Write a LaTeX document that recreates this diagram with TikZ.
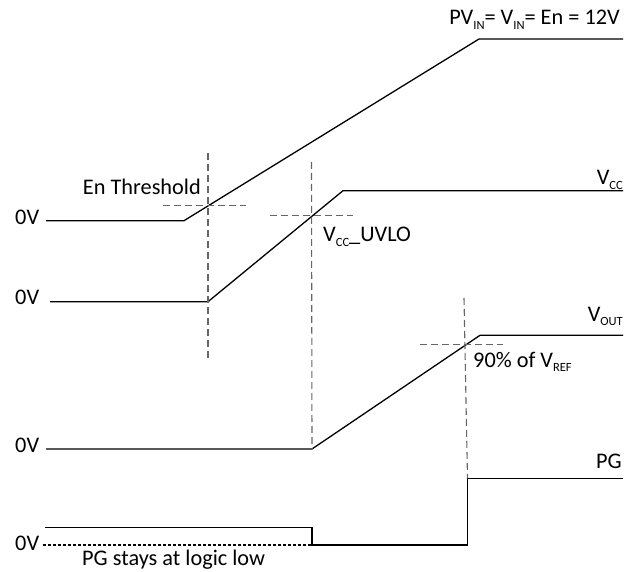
\documentclass[tikz,border=0pt]{standalone}
\usepackage{fontspec}
\setmainfont{Carlito}
\newcommand\lsub[1]{\raisebox{-0.45ex}{\fontsize{12.5}{12.5}\selectfont #1}}
\begin{document}
\begin{tikzpicture}[x=1pt,y=-1pt,
  sig/.style={line width=1.3pt,black},
  guide/.style={line width=1.1pt,draw=black!60,dash pattern=on 7pt off 4pt},
  lowdot/.style={line width=1.2pt,black,dash pattern=on 3pt off 2pt},
  lbl/.style={inner sep=0pt,font=\fontsize{22.3}{24}\selectfont}]
\useasboundingbox (0,0) rectangle (635,572);
% signal 1: PVin
\coordinate (a0) at (46,220.7);
\coordinate (a1) at (184,220.7);
\coordinate (a2) at (479,39);
\coordinate (a3) at (623,39);
\draw[sig] (a0) -- (a1) -- (a2) -- (a3);
% signal 2: Vcc
\coordinate (b0) at (50,301.7);
\coordinate (b1) at (208,301.7);
\coordinate (b2) at (343,190.7);
\coordinate (b3) at (623,190.7);
\draw[sig] (b0) -- (b1) -- (b2) -- (b3);
% signal 3: Vout
\coordinate (c0) at (46,449);
\coordinate (c1) at (312,449);
\coordinate (c2) at (480,335.3);
\coordinate (c3) at (623,335.3);
\draw[sig] (c0) -- (c1) -- (c2) -- (c3);
% signal 4: PG
\coordinate (d0) at (45,527.5);
\coordinate (d1) at (312,527.5);
\coordinate (d2) at (312,545);
\coordinate (d3) at (467.5,545);
\coordinate (d4) at (467.5,478.3);
\coordinate (d5) at (623,478.3);
\coordinate (d6) at (43,545);
\draw[sig] (d0) -- (d1) -- (d2) -- (d3) -- (d4) -- (d5);
\draw[lowdot] (d6) -- (d2);
% guides
\coordinate (g1t) at (208,153);
\coordinate (g1b) at (208,359);
\coordinate (h1l) at (163,205.7);
\coordinate (h1r) at (246,205.7);
\draw[guide] (g1t) -- (g1b);
\draw[guide] (h1l) -- (h1r);
\coordinate (g2t) at (311.5,162);
\draw[guide] (g2t) -- (c1);
\coordinate (h2l) at (270,215.7);
\coordinate (h2r) at (353,215.7);
\draw[guide] (h2l) -- (h2r);
\coordinate (g3t) at (464,298);
\draw[guide] (g3t) -- (d4);
\coordinate (h3l) at (420,344.3);
\coordinate (h3r) at (503,344.3);
\draw[guide] (h3l) -- (h3r);
% labels
\node[lbl,anchor=base east] (tpv) at (620,25) {PV\lsub{IN}= V\lsub{IN}= En = 12V};
\node[lbl,anchor=base west] (z1) at (15,225) {0V};
\node[lbl,anchor=base west] (z2) at (15,304.3) {0V};
\node[lbl,anchor=base west] (z3) at (15,452.5) {0V};
\node[lbl,anchor=base west] (z4) at (15,550) {0V};
\node[lbl,anchor=base east] (ten) at (201,195) {En Threshold};
\node[lbl,anchor=base east] (tvcc) at (623,185) {V\lsub{CC}};
\node[lbl,anchor=base west] (tuv) at (323,242) {V\lsub{CC}\_UVLO};
\node[lbl,anchor=base east] (tvout) at (623,321) {V\lsub{OUT}};
\node[lbl,anchor=base west] (tref) at (473,367) {90\% of V\lsub{REF}};
\node[lbl,anchor=base east] (tpg) at (622,468) {PG};
\node[lbl,anchor=base west] (tlow) at (82,565) {PG stays at logic low};
\end{tikzpicture}
\end{document}
